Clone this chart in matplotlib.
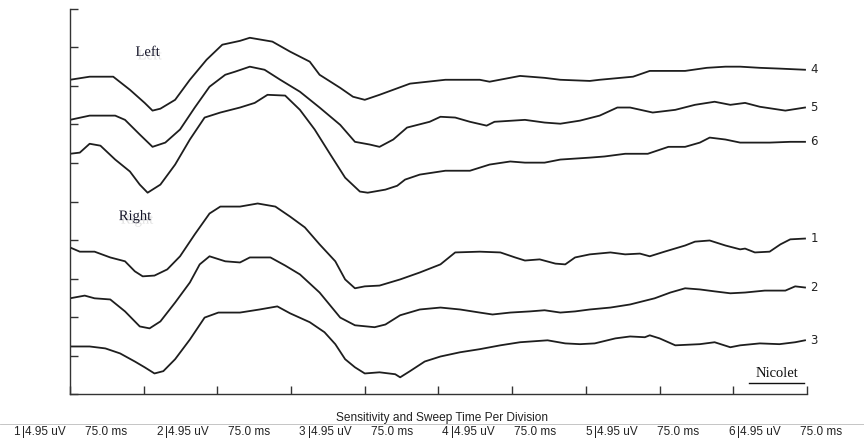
import matplotlib.pyplot as plt
import matplotlib.patheffects as pe

# Sweep time in ms, amplitude in screen divisions (4.95 uV / div)
t4 = [0, 20, 44, 61, 76, 84, 92, 107, 122, 139, 155, 173, 183, 206, 224, 244, 254, 275, 288, 300,
      315, 346, 382, 417, 427, 458, 483, 499, 529, 539, 573, 590, 626, 648, 667, 682, 702, 722, 748]
y4 = [8.16, 8.24, 8.24, 7.90, 7.56, 7.36, 7.41, 7.64, 8.16, 8.68, 9.07, 9.17, 9.25, 9.15, 8.89, 8.63,
      8.29, 7.95, 7.72, 7.64, 7.77, 8.06, 8.16, 8.16, 8.11, 8.26, 8.21, 8.16, 8.13, 8.16, 8.24, 8.39,
      8.39, 8.47, 8.50, 8.50, 8.47, 8.45, 8.42]

t5 = [0, 20, 46, 56, 71, 84, 97, 112, 127, 142, 158, 168, 183, 198, 214, 234, 254, 275, 290, 305,
      315, 329, 343, 366, 377, 392, 407, 424, 432, 463, 483, 499, 519, 539, 557, 570, 593, 616, 636,
      656, 672, 687, 702, 728, 748]
y5 = [7.12, 7.23, 7.23, 7.12, 6.74, 6.42, 6.53, 6.87, 7.44, 7.98, 8.29, 8.37, 8.50, 8.42, 8.16, 7.85,
      7.44, 6.99, 6.55, 6.48, 6.42, 6.61, 6.92, 7.07, 7.20, 7.18, 7.07, 6.97, 7.07, 7.12, 7.05, 7.02,
      7.10, 7.23, 7.44, 7.44, 7.31, 7.38, 7.51, 7.59, 7.51, 7.56, 7.46, 7.36, 7.44]

t6 = [0, 10, 20, 31, 46, 61, 71, 79, 92, 107, 122, 137, 153, 173, 188, 201, 219, 234, 249, 265, 280,
      295, 303, 321, 333, 341, 356, 382, 407, 427, 448, 463, 483, 499, 529, 544, 565, 588, 609, 626,
      641, 651, 667, 682, 712, 733, 748]
y6 = [6.24, 6.27, 6.50, 6.45, 6.09, 5.78, 5.44, 5.23, 5.44, 5.96, 6.61, 7.18, 7.31, 7.44, 7.56, 7.77,
      7.75, 7.38, 6.87, 6.22, 5.62, 5.26, 5.23, 5.31, 5.41, 5.57, 5.70, 5.80, 5.80, 5.96, 6.04, 6.01,
      6.01, 6.09, 6.14, 6.17, 6.24, 6.24, 6.42, 6.42, 6.53, 6.66, 6.61, 6.53, 6.53, 6.55, 6.55]

t1 = [0, 10, 25, 41, 56, 66, 74, 86, 99, 112, 127, 142, 153, 173, 191, 209, 224, 239, 254, 270, 280,
      290, 300, 315, 336, 356, 377, 392, 417, 438, 453, 463, 478, 494, 504, 514, 529, 550, 565, 580,
      590, 605, 626, 636, 651, 667, 682, 687, 697, 712, 723, 733, 748]
y1 = [3.81, 3.70, 3.70, 3.55, 3.45, 3.19, 3.06, 3.08, 3.24, 3.58, 4.15, 4.69, 4.87, 4.87, 4.95, 4.87,
      4.61, 4.33, 3.89, 3.45, 2.98, 2.75, 2.80, 2.82, 2.98, 3.16, 3.37, 3.68, 3.70, 3.68, 3.55, 3.47,
      3.50, 3.39, 3.37, 3.55, 3.63, 3.68, 3.63, 3.65, 3.58, 3.70, 3.86, 3.96, 3.99, 3.86, 3.76, 3.78,
      3.68, 3.70, 3.89, 4.02, 4.04]

t2 = [0, 15, 25, 41, 56, 71, 81, 92, 107, 122, 132, 142, 158, 173, 183, 204, 219, 234, 254, 275, 290,
      310, 321, 336, 356, 377, 397, 417, 430, 448, 468, 483, 499, 514, 529, 550, 570, 595, 611, 626,
      641, 656, 672, 687, 707, 728, 738, 748]
y2 = [2.49, 2.56, 2.49, 2.46, 2.15, 1.76, 1.71, 1.89, 2.38, 2.90, 3.37, 3.58, 3.45, 3.42, 3.55, 3.55,
      3.34, 3.11, 2.64, 1.99, 1.79, 1.74, 1.81, 2.05, 2.20, 2.25, 2.20, 2.12, 2.07, 2.12, 2.15, 2.18,
      2.12, 2.15, 2.20, 2.25, 2.33, 2.49, 2.64, 2.75, 2.72, 2.67, 2.62, 2.64, 2.69, 2.69, 2.80, 2.77]

t3 = [0, 20, 36, 51, 66, 76, 86, 95, 107, 122, 137, 151, 173, 193, 211, 224, 244, 259, 270, 280, 290,
      300, 315, 331, 336, 346, 361, 377, 397, 417, 438, 458, 486, 504, 519, 534, 555, 570, 585, 590,
      600, 616, 641, 656, 672, 682, 702, 722, 738, 748]
y3 = [1.24, 1.24, 1.19, 1.06, 0.85, 0.70, 0.54, 0.60, 0.91, 1.42, 1.99, 2.12, 2.12, 2.20, 2.28, 2.10,
      1.87, 1.61, 1.30, 0.91, 0.70, 0.54, 0.57, 0.52, 0.44, 0.60, 0.85, 0.98, 1.09, 1.17, 1.27, 1.35,
      1.40, 1.32, 1.30, 1.32, 1.45, 1.50, 1.48, 1.53, 1.45, 1.27, 1.30, 1.35, 1.22, 1.27, 1.32, 1.30,
      1.35, 1.40]

channels = ["4", "5", "6", "1", "2", "3"]
sensitivity = "4.95 uV"
sweep = "75.0 ms"
sweep_ms = 75.0
n_div = 10


def plot_traces():
    fig = plt.figure(figsize=(8.64, 4.43), dpi=100)
    ax = fig.add_axes([0.081, 0.110, 0.853, 0.870])

    traces = [(t4, y4), (t5, y5), (t6, y6), (t1, y1), (t2, y2), (t3, y3)]
    for (t, y), ch in zip(traces, channels):
        ax.plot(t, y, color="#1e1e1e", lw=1.3, solid_joinstyle="round")
        ax.annotate(ch, (t[-1], y[-1]), xytext=(4, 0), textcoords="offset points",
                    ha="left", va="center", fontsize=8.5, family="DejaVu Sans", color="#222")

    ax.set_xlim(0, sweep_ms * n_div)
    ax.set_ylim(0, n_div)
    ax.set_xticks([sweep_ms * i for i in range(n_div + 1)])
    ax.set_yticks(range(n_div + 1))
    ax.tick_params(direction="in", length=6, width=1.0, color="#333",
                   labelbottom=False, labelleft=False)
    for side in ["top", "right"]:
        ax.spines[side].set_visible(False)
    for side in ["left", "bottom"]:
        ax.spines[side].set_color("#333")
        ax.spines[side].set_linewidth(1.0)

    # group labels with a soft drop shadow like the scan
    shadow = [pe.SimplePatchShadow(offset=(1.5, -2.5), shadow_rgbFace="#888", alpha=0.25), pe.Normal()]
    ax.text(79, 8.87, "Left", ha="center", va="center", fontsize=10.5,
            family="Liberation Serif", color="#141428", path_effects=shadow)
    ax.text(66, 4.61, "Right", ha="center", va="center", fontsize=10.5,
            family="Liberation Serif", color="#141428", path_effects=shadow)

    ax.text(719, 0.55, "Nicolet", ha="center", va="center", fontsize=10.5,
            family="Liberation Serif", color="#111")
    ax.plot([691, 747], [0.30, 0.30], color="#111", lw=1.0, clip_on=False)

    # footer: sensitivity / sweep time per channel
    fig.text(0.511, 1 - 418 / 443, "Sensitivity and Sweep Time Per Division", ha="center",
             va="center", fontsize=8.6, family="Liberation Sans", color="#222")
    fig.add_artist(plt.Line2D([0, 1], [1 - 424 / 443] * 2, color="#bbb", lw=0.6))
    for i in range(6):
        x0 = 13 + i * 143
        fy = 1 - 432 / 443
        fig.text(x0 / 864, fy, str(i + 1), ha="left", va="center", fontsize=8.5,
                 family="Liberation Sans", color="#222")
        fig.text((x0 + 9) / 864, fy, "|" + sensitivity, ha="left", va="center", fontsize=8.5,
                 family="Liberation Sans", color="#222")
        fig.text((x0 + 72) / 864, fy, sweep, ha="left", va="center", fontsize=8.5,
                 family="Liberation Sans", color="#222")

    fig.savefig("out.png", dpi=100)


if __name__ == "__main__":
    plot_traces()
